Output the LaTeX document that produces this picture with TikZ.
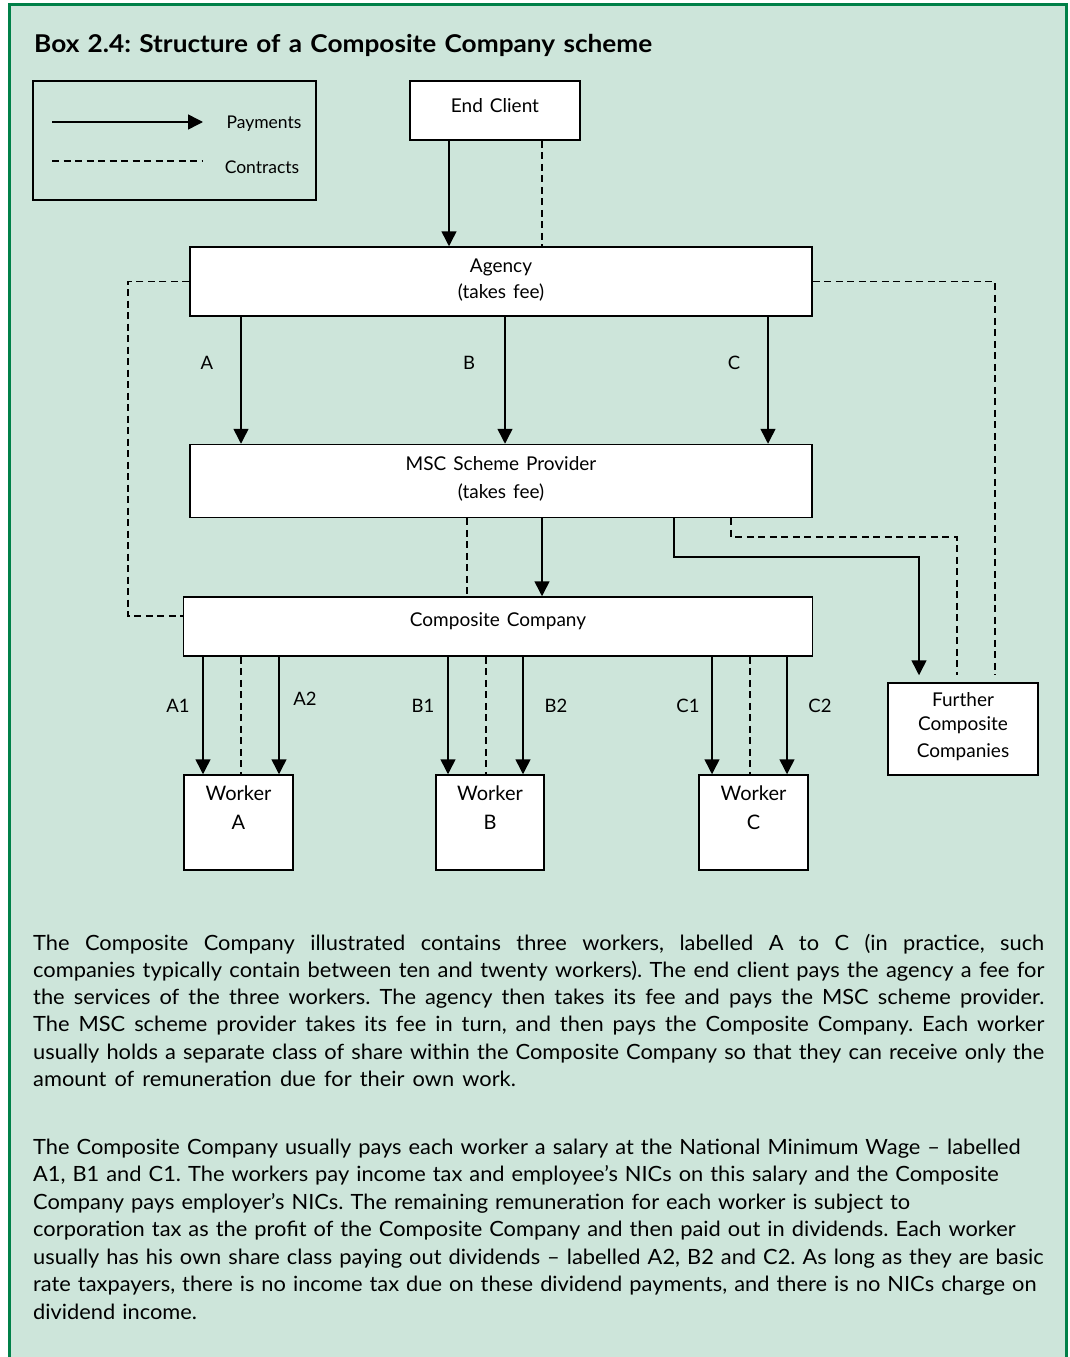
\documentclass[tikz,border=0pt]{standalone}
\usepackage{fontspec}
\setmainfont{Lato}[WordSpace=1.45]
\newfontfamily\titlefont{Lato}[Ligatures=TeX,FakeStretch=1.07,WordSpace=1.3]
\newfontfamily\bodyfont{Lato}[Ligatures=TeX,FakeStretch=1.04,WordSpace=1.45]
\usetikzlibrary{arrows.meta}

\definecolor{frameGreen}{RGB}{0,128,72}
\definecolor{paleGreen}{RGB}{205,229,218}

\begin{document}
\frenchspacing
\begin{tikzpicture}[x=1pt,y=-1pt,
		>={Triangle[length=15pt,width=15pt]},
		every node/.style={font=\fontsize{19}{26}\selectfont},
		box/.style={draw, fill=white, line width=1.5pt, align=center, inner sep=0pt},
		pay/.style={->, line width=1.5pt},
		contract/.style={line width=1.5pt, dash pattern=on 7pt off 4.5pt},
		lbl/.style={font=\fontsize{18.5}{22}\selectfont, inner sep=0pt}]
			% frame of the box
			\useasboundingbox (0,0) rectangle (1069,1357);
			\fill [paleGreen] (10,5) rectangle (1066,1357);
			\draw [frameGreen, line width=2.5pt] (9.5,1357) -- (9.5,4.5) -- (1066.5,4.5) -- (1066.5,1357);

			\node [anchor=base west, inner sep=0pt, font=\titlefont\bfseries\fontsize{24.5}{28}\selectfont] (title) at (34,52) {Box 2.4: Structure of a Composite Company scheme};

			% legend
			\node [draw, line width=1.5pt, minimum width=283pt, minimum height=119pt, inner sep=0pt] (legend) at (174.5,140.5) {};
			\coordinate (payS) at (52,122);
			\coordinate (payE) at (203,122);
			\coordinate (conS) at (52,161);
			\coordinate (conE) at (203,161);
			\draw [pay] (payS) -- (payE);
			\draw [contract] (conS) -- (conE);
			\node [font=\fontsize{17.5}{22}\selectfont] (payTxt) at (264,124) {Payments};
			\node [font=\fontsize{17.5}{22}\selectfont] (conTxt) at (262,167) {Contracts};

			% boxes (text height/depth put the lines where they sit in the box)
			\node [box, minimum width=170pt, minimum height=59pt, text height=9pt, text depth=5.4pt] (client) at (495,110.5) {End Client};
			\node [box, minimum width=622pt, minimum height=69pt, text height=38pt, text depth=5pt] (agency) at (501,281.5) {Agency\\(takes fee)};
			\node [box, minimum width=622pt, minimum height=73pt, text height=40pt, text depth=5pt] (msc) at (501,481) {MSC Scheme Provider\\[2.5pt](takes fee)};
			\node [box, minimum width=629pt, minimum height=59pt, text height=7pt, text depth=7pt] (comp) at (498,626.5) {Composite Company};
			\node [box, minimum width=150pt, minimum height=92pt, text height=62pt, text depth=4.6pt] (further) at (963,729) {Further\\[-2.7pt]Composite\\[1.7pt]Companies};
			\node [box, minimum width=109pt, minimum height=95pt, text height=20pt, text depth=7pt, font=\fontsize{20}{26}\selectfont] (wA) at (238.5,822.5) {Worker\\[2.3pt]A};
			\node [box, minimum width=108pt, minimum height=95pt, text height=20pt, text depth=7pt, font=\fontsize{20}{26}\selectfont] (wB) at (490,822.5) {Worker\\[2.3pt]B};
			\node [box, minimum width=109pt, minimum height=95pt, text height=20pt, text depth=7pt, font=\fontsize{20}{26}\selectfont] (wC) at (753.5,822.5) {Worker\\[2.3pt]C};

			% client to agency
			\path [pay] (449,0 |- client.south) edge (449,0 |- agency.north);
			\path [contract] (542,0 |- client.south) edge (542,0 |- agency.north);

			% agency to scheme provider
			\path [pay] (241,0 |- agency.south) edge node[lbl, pos=.36, xshift=-34pt] {A} (241,0 |- msc.north);
			\path [pay] (505,0 |- agency.south) edge node[lbl, pos=.36, xshift=-36pt] {B} (505,0 |- msc.north);
			\path [pay] (768,0 |- agency.south) edge node[lbl, pos=.36, xshift=-34pt] {C} (768,0 |- msc.north);

			% scheme provider to composite company
			\path [pay] (542,0 |- msc.south) edge (542,0 |- comp.north);
			\path [contract] (467,0 |- msc.south) edge (467,0 |- comp.north);

			% contracts round the side
			\draw [contract] (agency.west) -| ([xshift=-55pt,yshift=10.5pt]comp.west) -- ([yshift=10.5pt]comp.west);
			\draw [contract] (agency.east) -| ([yshift=7pt]995,0 |- further.north);
			\draw [pay] (674,0 |- msc.south) |- (919,557) -- ([yshift=7pt]919,0 |- further.north);
			\draw [contract] (731,0 |- msc.south) |- (957,537) -- ([yshift=7pt]957,0 |- further.north);

			% composite company to workers
			\path [pay] (203,0 |- comp.south) edge node[lbl, pos=.42, xshift=-25pt] {A1} (203,0 |- wA.north);
			\path [contract] (241,0 |- comp.south) edge (241,0 |- wA.north);
			\path [pay] (279,0 |- comp.south) edge node[lbl, pos=.36, xshift=26pt] {A2} (279,0 |- wA.north);
			\path [pay] (448,0 |- comp.south) edge node[lbl, pos=.42, xshift=-25pt] {B1} (448,0 |- wB.north);
			\path [contract] (486,0 |- comp.south) edge (486,0 |- wB.north);
			\path [pay] (523,0 |- comp.south) edge node[lbl, pos=.42, xshift=33pt] {B2} (523,0 |- wB.north);
			\path [pay] (712,0 |- comp.south) edge node[lbl, pos=.42, xshift=-24pt] {C1} (712,0 |- wC.north);
			\path [contract] (750,0 |- comp.south) edge (750,0 |- wC.north);
			\path [pay] (787,0 |- comp.south) edge node[lbl, pos=.42, xshift=33pt] {C2} (787,0 |- wC.north);

			% text under the diagram
			\node [anchor=base west, inner sep=0pt, text width=1011pt, align=justify, font=\bodyfont\fontsize{21}{27.3}\selectfont] (para1) at (33,950) {The Composite Company illustrated contains three workers, labelled A to C (in practice, such\linebreak
			companies typically contain between ten and twenty workers). The end client pays the agency a fee for\linebreak
			the services of the three workers. The agency then takes its fee and pays the MSC scheme provider.\linebreak
			The MSC scheme provider takes its fee in turn, and then pays the Composite Company. Each worker\linebreak
			usually holds a separate class of share within the Composite Company so that they can receive only the\linebreak
			amount of remuneration due for their own work.};
			\node [anchor=base west, inner sep=0pt, text width=1040pt, align=left, font=\bodyfont\fontsize{21}{27.5}\selectfont] (para2) at (33,1154) {The Composite Company usually pays each worker a salary at the National Minimum Wage -- labelled\\
			A1, B1 and C1. The workers pay income tax and employee's NICs on this salary and the Composite\\
			Company pays employer's NICs. The remaining remuneration for each worker is subject to\\
			corporation tax as the profit of the Composite Company and then paid out in dividends. Each worker\\
			usually has his own share class paying out dividends -- labelled A2, B2 and C2. As long as they are basic\\
			rate taxpayers, there is no income tax due on these dividend payments, and there is no NICs charge on\\
			dividend income.};
		\end{tikzpicture}
\end{document}
